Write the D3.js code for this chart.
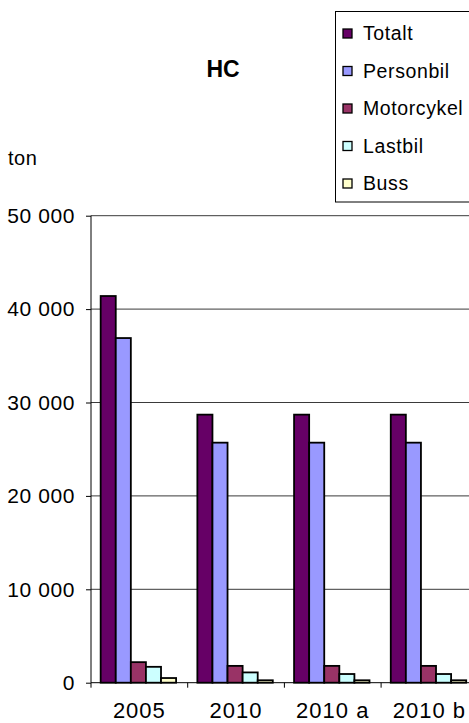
<!DOCTYPE html>
<html>
<head>
<meta charset="utf-8">
<script src="https://cdn.jsdelivr.net/npm/d3@7"></script>
<style>
  html, body { margin: 0; padding: 0; background: #fff; overflow: hidden; }
  svg { display: block; font-family: "Liberation Sans", Arial, sans-serif; }
</style>
</head>
<body>
<div id="chart"></div>
<script>
// HC emissions (ton) per scenario and vehicle type
const categories = ["2005", "2010", "2010 a", "2010 b"];
const seriesNames = ["Totalt", "Personbil", "Motorcykel", "Lastbil", "Buss"];
const totalt     = [41400, 28700, 28700, 28700];
const personbil  = [36900, 25700, 25700, 25700];
const motorcykel = [2200, 1800, 1800, 1800];
const lastbil    = [1700, 1100, 930, 930];
const buss       = [500, 260, 260, 260];
const yTicks = [0, 10000, 20000, 30000, 40000, 50000];
const colors = ["#660066", "#9999FF", "#993366", "#CCFFFF", "#FFFFCC"];

const seriesValues = [totalt, personbil, motorcykel, lastbil, buss];

const W = 469, H = 723;
const plot = { left: 91, top: 215.7, bottom: 682.7, catW: 96.7 };
plot.right = plot.left + plot.catW * categories.length;

const svg = d3.select("#chart").append("svg")
  .attr("width", W).attr("height", H);

const x0 = d3.scaleBand().domain(categories).range([plot.left, plot.right]);
const x1 = d3.scaleBand().domain(seriesNames)
  .range([plot.catW * 0.1, plot.catW * 0.88]);
const y = d3.scaleLinear().domain([0, 50000]).range([plot.bottom, plot.top]);

const fmt = d3.formatLocale({ decimal: ",", thousands: " ", grouping: [3], currency: ["", ""] }).format(",d");

// horizontal gridlines
svg.append("g")
  .selectAll("line")
  .data(yTicks.filter(d => d > 0))
  .join("line")
  .attr("x1", plot.left).attr("x2", plot.right)
  .attr("y1", d => y(d)).attr("y2", d => y(d))
  .attr("stroke", "#3a3a3a").attr("stroke-width", 1);

// bars
const groups = svg.append("g")
  .selectAll("g")
  .data(categories)
  .join("g")
  .attr("transform", d => `translate(${x0(d)},0)`);

groups.selectAll("rect")
  .data((c, i) => seriesNames.map((s, j) => ({ s, v: seriesValues[j][i], j })))
  .join("rect")
  .attr("x", d => x1(d.s))
  .attr("width", x1.bandwidth())
  .attr("y", d => y(d.v))
  .attr("height", d => y(0) - y(d.v))
  .attr("fill", d => colors[d.j])
  .attr("stroke", "#000")
  .attr("stroke-width", 1.8);

// y axis
const yAxis = svg.append("g")
  .attr("transform", `translate(${plot.left},0)`)
  .call(d3.axisLeft(y).tickValues(yTicks).tickFormat(fmt).tickSize(5).tickPadding(11));
yAxis.select(".domain").attr("d", `M0,${plot.top}V${plot.bottom}`).attr("stroke", "#000");
yAxis.selectAll(".tick line").attr("stroke", "#000");
yAxis.selectAll("text").attr("font-size", 21).attr("fill", "#000")
  .attr("letter-spacing", 0.6)
  .attr("font-family", "Liberation Sans, Arial, sans-serif");

// x axis
const xAxis = svg.append("g")
  .attr("transform", `translate(0,${plot.bottom})`)
  .call(d3.axisBottom(x0).tickSize(0).tickPadding(20));
xAxis.select(".domain").attr("d", `M${plot.left},0H${plot.right}`).attr("stroke", "#000");
xAxis.selectAll("text").attr("font-size", 22).attr("fill", "#000")
  .attr("letter-spacing", 1)
  .attr("font-family", "Liberation Sans, Arial, sans-serif");
// boundary ticks between categories
xAxis.append("g")
  .selectAll("line")
  .data(categories)
  .join("line")
  .attr("x1", d => x0(d)).attr("x2", d => x0(d))
  .attr("y1", 0).attr("y2", 5)
  .attr("stroke", "#000");

// title and unit
svg.append("text")
  .attr("x", 223).attr("y", 77)
  .attr("text-anchor", "middle")
  .attr("font-size", 23).attr("font-weight", "bold")
  .text("HC");

svg.append("text")
  .attr("x", 8).attr("y", 165)
  .attr("font-size", 20)
  .attr("letter-spacing", 0.5)
  .text("ton");

// legend
const legend = svg.append("g");
legend.append("rect")
  .attr("x", 335.5).attr("y", 11.5)
  .attr("width", 150).attr("height", 190.5)
  .attr("fill", "#fff").attr("stroke", "#000").attr("stroke-width", 1);

const rowY = d3.scalePoint().domain(seriesNames).range([33.5, 183.5]);
const items = legend.selectAll("g.item")
  .data(seriesNames)
  .join("g")
  .attr("class", "item")
  .attr("transform", d => `translate(0,${rowY(d)})`);
items.append("rect")
  .attr("x", 343).attr("y", -4.5)
  .attr("width", 9).attr("height", 9)
  .attr("fill", (d, i) => colors[i])
  .attr("stroke", "#000").attr("stroke-width", 1.3);
items.append("text")
  .attr("x", 363).attr("y", 0)
  .attr("dy", "0.35em")
  .attr("font-size", 19.5)
  .attr("letter-spacing", 0.6)
  .text(d => d);
</script>
</body>
</html>
